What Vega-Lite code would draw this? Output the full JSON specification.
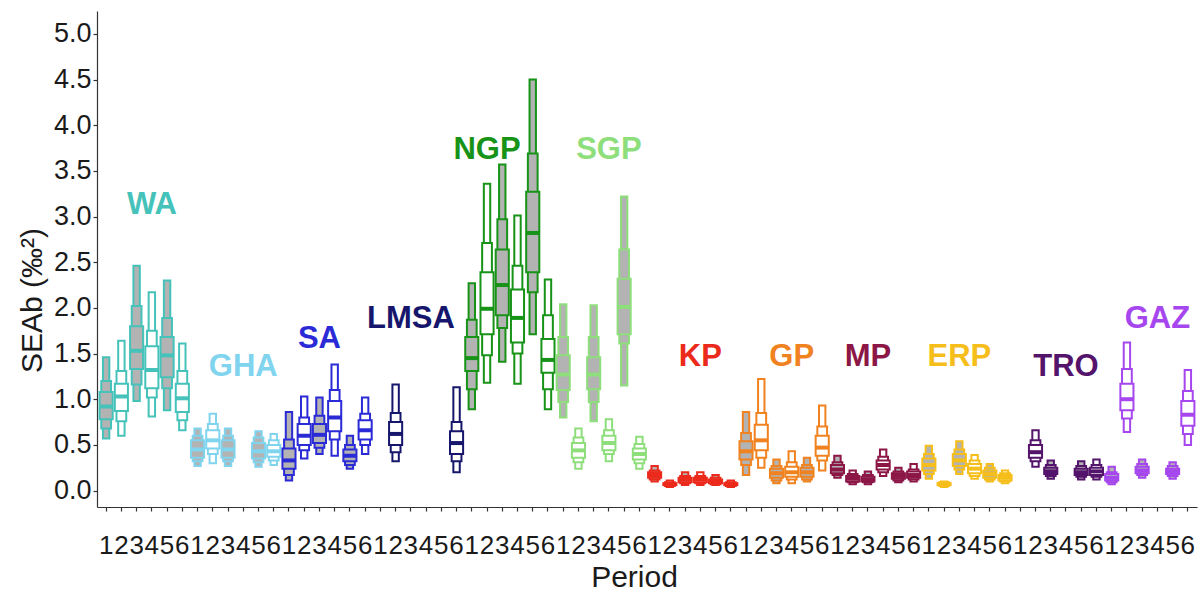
{
  "$schema": "https://vega.github.io/schema/vega-lite/v6.json",
  "width": 1100,
  "height": 496,
  "autosize": "none",
  "padding": {"left": 97, "top": 11, "right": 3, "bottom": 90},
  "background": "white",
  "config": {
    "view": {"stroke": null},
    "font": "Liberation Sans",
    "axis": {
      "domainColor": "#333333", "domainWidth": 1.2, "tickColor": "#333333", "tickWidth": 1.2,
      "labelColor": "#1a1a1a", "titleColor": "#1a1a1a", "labelFont": "Liberation Sans", "titleFont": "Liberation Sans",
      "grid": false, "titleFontWeight": "normal"
    }
  },
  "datasets": {
    "boxes": [
      {"k":"WA1","grp":"WA","p":1,"lo95":0.57,"lo75":0.68,"lo50":0.78,"med":0.92,"hi50":1.08,"hi75":1.20,"hi95":1.46},
      {"k":"WA2","grp":"WA","p":2,"lo95":0.60,"lo75":0.76,"lo50":0.87,"med":1.03,"hi50":1.17,"hi75":1.31,"hi95":1.64},
      {"k":"WA3","grp":"WA","p":3,"lo95":0.98,"lo75":1.16,"lo50":1.33,"med":1.53,"hi50":1.80,"hi75":2.02,"hi95":2.46},
      {"k":"WA4","grp":"WA","p":4,"lo95":0.81,"lo75":1.02,"lo50":1.12,"med":1.32,"hi50":1.58,"hi75":1.75,"hi95":2.17},
      {"k":"WA5","grp":"WA","p":5,"lo95":0.88,"lo75":1.12,"lo50":1.24,"med":1.48,"hi50":1.68,"hi75":1.89,"hi95":2.30},
      {"k":"WA6","grp":"WA","p":6,"lo95":0.66,"lo75":0.77,"lo50":0.86,"med":1.01,"hi50":1.17,"hi75":1.31,"hi95":1.61},
      {"k":"GHA1","grp":"GHA","p":1,"lo95":0.27,"lo75":0.32,"lo50":0.36,"med":0.45,"hi50":0.55,"hi75":0.60,"hi95":0.68},
      {"k":"GHA2","grp":"GHA","p":2,"lo95":0.30,"lo75":0.40,"lo50":0.46,"med":0.55,"hi50":0.66,"hi75":0.73,"hi95":0.84},
      {"k":"GHA3","grp":"GHA","p":3,"lo95":0.27,"lo75":0.32,"lo50":0.36,"med":0.45,"hi50":0.55,"hi75":0.60,"hi95":0.68},
      {"k":"GHA5","grp":"GHA","p":5,"lo95":0.26,"lo75":0.31,"lo50":0.35,"med":0.43,"hi50":0.52,"hi75":0.58,"hi95":0.65},
      {"k":"GHA6","grp":"GHA","p":6,"lo95":0.28,"lo75":0.33,"lo50":0.37,"med":0.43,"hi50":0.50,"hi75":0.55,"hi95":0.62},
      {"k":"SA1","grp":"SA","p":1,"lo95":0.11,"lo75":0.17,"lo50":0.24,"med":0.33,"hi50":0.46,"hi75":0.56,"hi95":0.86},
      {"k":"SA2","grp":"SA","p":2,"lo95":0.35,"lo75":0.44,"lo50":0.50,"med":0.60,"hi50":0.73,"hi75":0.80,"hi95":1.03},
      {"k":"SA3","grp":"SA","p":3,"lo95":0.40,"lo75":0.47,"lo50":0.52,"med":0.61,"hi50":0.73,"hi75":0.82,"hi95":1.02},
      {"k":"SA4","grp":"SA","p":4,"lo95":0.38,"lo75":0.56,"lo50":0.65,"med":0.80,"hi50":0.98,"hi75":1.10,"hi95":1.38},
      {"k":"SA5","grp":"SA","p":5,"lo95":0.24,"lo75":0.28,"lo50":0.32,"med":0.38,"hi50":0.45,"hi75":0.50,"hi95":0.60},
      {"k":"SA6","grp":"SA","p":6,"lo95":0.40,"lo75":0.50,"lo50":0.56,"med":0.66,"hi50":0.77,"hi75":0.84,"hi95":1.02},
      {"k":"LMSA2","grp":"LMSA","p":2,"lo95":0.32,"lo75":0.42,"lo50":0.50,"med":0.62,"hi50":0.75,"hi75":0.85,"hi95":1.16},
      {"k":"LMSA6","grp":"LMSA","p":6,"lo95":0.20,"lo75":0.32,"lo50":0.40,"med":0.52,"hi50":0.65,"hi75":0.75,"hi95":1.13},
      {"k":"NGP1","grp":"NGP","p":1,"lo95":0.89,"lo75":1.11,"lo50":1.31,"med":1.45,"hi50":1.68,"hi75":1.87,"hi95":2.27},
      {"k":"NGP2","grp":"NGP","p":2,"lo95":1.18,"lo75":1.48,"lo50":1.71,"med":1.99,"hi50":2.39,"hi75":2.71,"hi95":3.36},
      {"k":"NGP3","grp":"NGP","p":3,"lo95":1.41,"lo75":1.78,"lo50":1.92,"med":2.25,"hi50":2.64,"hi75":2.97,"hi95":3.57},
      {"k":"NGP4","grp":"NGP","p":4,"lo95":1.17,"lo75":1.50,"lo50":1.62,"med":1.89,"hi50":2.20,"hi75":2.46,"hi95":3.01},
      {"k":"NGP5","grp":"NGP","p":5,"lo95":1.71,"lo75":2.17,"lo50":2.39,"med":2.82,"hi50":3.27,"hi75":3.69,"hi95":4.50},
      {"k":"NGP6","grp":"NGP","p":6,"lo95":0.89,"lo75":1.11,"lo50":1.29,"med":1.43,"hi50":1.66,"hi75":1.92,"hi95":2.31},
      {"k":"SGP1","grp":"SGP","p":1,"lo95":0.80,"lo75":0.97,"lo50":1.10,"med":1.27,"hi50":1.48,"hi75":1.68,"hi95":2.04},
      {"k":"SGP2","grp":"SGP","p":2,"lo95":0.24,"lo75":0.31,"lo50":0.36,"med":0.44,"hi50":0.52,"hi75":0.58,"hi95":0.68},
      {"k":"SGP3","grp":"SGP","p":3,"lo95":0.76,"lo75":0.97,"lo50":1.11,"med":1.27,"hi50":1.46,"hi75":1.68,"hi95":2.03},
      {"k":"SGP4","grp":"SGP","p":4,"lo95":0.32,"lo75":0.40,"lo50":0.44,"med":0.52,"hi50":0.60,"hi75":0.66,"hi95":0.78},
      {"k":"SGP5","grp":"SGP","p":5,"lo95":1.15,"lo75":1.61,"lo50":1.71,"med":2.01,"hi50":2.32,"hi75":2.64,"hi95":3.22},
      {"k":"SGP6","grp":"SGP","p":6,"lo95":0.24,"lo75":0.30,"lo50":0.34,"med":0.40,"hi50":0.46,"hi75":0.51,"hi95":0.59},
      {"k":"KP1","grp":"KP","p":1,"lo95":0.10,"lo75":0.12,"lo50":0.14,"med":0.17,"hi50":0.20,"hi75":0.22,"hi95":0.27},
      {"k":"KP2","grp":"KP","p":2,"lo95":0.04,"lo75":0.05,"lo50":0.06,"med":0.07,"hi50":0.08,"hi75":0.09,"hi95":0.11},
      {"k":"KP3","grp":"KP","p":3,"lo95":0.06,"lo75":0.08,"lo50":0.09,"med":0.12,"hi50":0.14,"hi75":0.16,"hi95":0.20},
      {"k":"KP4","grp":"KP","p":4,"lo95":0.06,"lo75":0.08,"lo50":0.09,"med":0.12,"hi50":0.14,"hi75":0.16,"hi95":0.20},
      {"k":"KP5","grp":"KP","p":5,"lo95":0.06,"lo75":0.07,"lo50":0.08,"med":0.10,"hi50":0.12,"hi75":0.14,"hi95":0.17},
      {"k":"KP6","grp":"KP","p":6,"lo95":0.04,"lo75":0.05,"lo50":0.06,"med":0.07,"hi50":0.08,"hi75":0.09,"hi95":0.11},
      {"k":"GP1","grp":"GP","p":1,"lo95":0.17,"lo75":0.28,"lo50":0.34,"med":0.43,"hi50":0.54,"hi75":0.63,"hi95":0.86},
      {"k":"GP2","grp":"GP","p":2,"lo95":0.25,"lo75":0.36,"lo50":0.44,"med":0.55,"hi50":0.72,"hi75":0.85,"hi95":1.22},
      {"k":"GP3","grp":"GP","p":3,"lo95":0.08,"lo75":0.11,"lo50":0.14,"med":0.19,"hi50":0.24,"hi75":0.27,"hi95":0.34},
      {"k":"GP4","grp":"GP","p":4,"lo95":0.08,"lo75":0.12,"lo50":0.15,"med":0.20,"hi50":0.26,"hi75":0.31,"hi95":0.43},
      {"k":"GP5","grp":"GP","p":5,"lo95":0.10,"lo75":0.12,"lo50":0.15,"med":0.20,"hi50":0.25,"hi75":0.28,"hi95":0.36},
      {"k":"GP6","grp":"GP","p":6,"lo95":0.22,"lo75":0.33,"lo50":0.38,"med":0.47,"hi50":0.60,"hi75":0.70,"hi95":0.93},
      {"k":"MP1","grp":"MP","p":1,"lo95":0.14,"lo75":0.17,"lo50":0.19,"med":0.23,"hi50":0.28,"hi75":0.31,"hi95":0.38},
      {"k":"MP2","grp":"MP","p":2,"lo95":0.07,"lo75":0.09,"lo50":0.10,"med":0.13,"hi50":0.16,"hi75":0.18,"hi95":0.22},
      {"k":"MP3","grp":"MP","p":3,"lo95":0.07,"lo75":0.09,"lo50":0.10,"med":0.12,"hi50":0.15,"hi75":0.17,"hi95":0.21},
      {"k":"MP4","grp":"MP","p":4,"lo95":0.16,"lo75":0.20,"lo50":0.23,"med":0.28,"hi50":0.33,"hi75":0.37,"hi95":0.45},
      {"k":"MP5","grp":"MP","p":5,"lo95":0.09,"lo75":0.11,"lo50":0.13,"med":0.16,"hi50":0.19,"hi75":0.21,"hi95":0.25},
      {"k":"MP6","grp":"MP","p":6,"lo95":0.10,"lo75":0.12,"lo50":0.14,"med":0.17,"hi50":0.21,"hi75":0.23,"hi95":0.29},
      {"k":"ERP1","grp":"ERP","p":1,"lo95":0.13,"lo75":0.18,"lo50":0.22,"med":0.28,"hi50":0.35,"hi75":0.40,"hi95":0.49},
      {"k":"ERP2","grp":"ERP","p":2,"lo95":0.04,"lo75":0.05,"lo50":0.06,"med":0.07,"hi50":0.08,"hi75":0.09,"hi95":0.10},
      {"k":"ERP3","grp":"ERP","p":3,"lo95":0.18,"lo75":0.23,"lo50":0.27,"med":0.33,"hi50":0.40,"hi75":0.45,"hi95":0.54},
      {"k":"ERP4","grp":"ERP","p":4,"lo95":0.13,"lo75":0.16,"lo50":0.19,"med":0.24,"hi50":0.29,"hi75":0.33,"hi95":0.39},
      {"k":"ERP5","grp":"ERP","p":5,"lo95":0.10,"lo75":0.12,"lo50":0.14,"med":0.18,"hi50":0.22,"hi75":0.25,"hi95":0.29},
      {"k":"ERP6","grp":"ERP","p":6,"lo95":0.08,"lo75":0.10,"lo50":0.11,"med":0.14,"hi50":0.17,"hi75":0.19,"hi95":0.22},
      {"k":"TRO2","grp":"TRO","p":2,"lo95":0.26,"lo75":0.32,"lo50":0.36,"med":0.42,"hi50":0.50,"hi75":0.55,"hi95":0.66},
      {"k":"TRO3","grp":"TRO","p":3,"lo95":0.13,"lo75":0.16,"lo50":0.18,"med":0.21,"hi50":0.25,"hi75":0.28,"hi95":0.33},
      {"k":"TRO5","grp":"TRO","p":5,"lo95":0.12,"lo75":0.15,"lo50":0.17,"med":0.20,"hi50":0.24,"hi75":0.27,"hi95":0.32},
      {"k":"TRO6","grp":"TRO","p":6,"lo95":0.12,"lo75":0.15,"lo50":0.17,"med":0.21,"hi50":0.25,"hi75":0.28,"hi95":0.34},
      {"k":"GAZ1","grp":"GAZ","p":1,"lo95":0.07,"lo75":0.09,"lo50":0.11,"med":0.14,"hi50":0.18,"hi75":0.20,"hi95":0.26},
      {"k":"GAZ2","grp":"GAZ","p":2,"lo95":0.64,"lo75":0.79,"lo50":0.88,"med":1.00,"hi50":1.17,"hi75":1.33,"hi95":1.62},
      {"k":"GAZ3","grp":"GAZ","p":3,"lo95":0.14,"lo75":0.17,"lo50":0.19,"med":0.22,"hi50":0.26,"hi75":0.29,"hi95":0.34},
      {"k":"GAZ5","grp":"GAZ","p":5,"lo95":0.13,"lo75":0.16,"lo50":0.18,"med":0.21,"hi50":0.24,"hi75":0.27,"hi95":0.31},
      {"k":"GAZ6","grp":"GAZ","p":6,"lo95":0.50,"lo75":0.62,"lo50":0.71,"med":0.83,"hi50":0.98,"hi75":1.09,"hi95":1.32}
    ],
    "labels": [
      {"grp":"WA","k":"WA4","y":3.13},
      {"grp":"GHA","k":"GHA4","y":1.35},
      {"grp":"SA","k":"SA3","y":1.66},
      {"grp":"LMSA","k":"LMSA3","y":1.88},
      {"grp":"NGP","k":"NGP2","y":3.73},
      {"grp":"SGP","k":"SGP4","y":3.73},
      {"grp":"KP","k":"KP4","y":1.46},
      {"grp":"GP","k":"GP4","y":1.46},
      {"grp":"MP","k":"MP3","y":1.46},
      {"grp":"ERP","k":"ERP3","y":1.46},
      {"grp":"TRO","k":"TRO4","y":1.35},
      {"grp":"GAZ","k":"GAZ4","y":1.88}
    ]
  },
  "encoding": {
    "x": {
      "field": "k", "type": "ordinal",
      "scale": {
        "domain": ["WA1","WA2","WA3","WA4","WA5","WA6","GHA1","GHA2","GHA3","GHA4","GHA5","GHA6","SA1","SA2","SA3","SA4","SA5","SA6","LMSA1","LMSA2","LMSA3","LMSA4","LMSA5","LMSA6","NGP1","NGP2","NGP3","NGP4","NGP5","NGP6","SGP1","SGP2","SGP3","SGP4","SGP5","SGP6","KP1","KP2","KP3","KP4","KP5","KP6","GP1","GP2","GP3","GP4","GP5","GP6","MP1","MP2","MP3","MP4","MP5","MP6","ERP1","ERP2","ERP3","ERP4","ERP5","ERP6","TRO1","TRO2","TRO3","TRO4","TRO5","TRO6","GAZ1","GAZ2","GAZ3","GAZ4","GAZ5","GAZ6"],
        "paddingInner": 0, "paddingOuter": 0.1
      },
      "axis": {
        "title": "Period", "titleFontSize": 30, "titlePadding": 4, "titleX": 537,
        "labelExpr": "substring(datum.label, length(datum.label) - 1)",
        "labelFontSize": 26, "labelAngle": 0, "labelPadding": 21, "tickSize": 4, "labelOverlap": false
      }
    }
  },
  "layer": [
    {
      "data": {"name": "boxes"},
      "mark": {"type": "bar", "width": {"band": 0.42}, "strokeWidth": 2},
      "encoding": {
        "y": {"field": "lo95", "type": "quantitative", "scale": {"domain": [-0.18, 5.25], "nice": false, "zero": false},
              "axis": {"title": "SEAb (‰²)", "titleFontSize": 30, "titlePadding": 6, "titleY": 289, "values": [0,0.5,1,1.5,2,2.5,3,3.5,4,4.5,5], "format": ".1f", "labelFontSize": 27, "tickSize": 4, "labelPadding": 2}},
        "y2": {"field": "hi95"},
        "stroke": {"field": "grp", "type": "nominal", "legend": null,
                   "scale": {"domain": ["WA","GHA","SA","LMSA","NGP","SGP","KP","GP","MP","ERP","TRO","GAZ"],
                             "range": ["#45C2B9","#80D4EE","#2A2AD6","#16166C","#179317","#8EDE7C","#EC2A1C","#F0821F","#8C1746","#F5BE1A","#55146B","#A646EE"]}},
        "fill": {"condition": {"test": "datum.p % 2 === 1", "value": "#B3B3B3"}, "value": "white"}
      }
    },
    {
      "data": {"name": "boxes"},
      "mark": {"type": "bar", "width": {"band": 0.64}, "strokeWidth": 2},
      "encoding": {
        "y": {"field": "lo75", "type": "quantitative"},
        "y2": {"field": "hi75"},
        "stroke": {"field": "grp", "type": "nominal", "legend": null},
        "fill": {"condition": {"test": "datum.p % 2 === 1", "value": "#B3B3B3"}, "value": "white"}
      }
    },
    {
      "data": {"name": "boxes"},
      "mark": {"type": "bar", "width": {"band": 0.86}, "strokeWidth": 2},
      "encoding": {
        "y": {"field": "lo50", "type": "quantitative"},
        "y2": {"field": "hi50"},
        "stroke": {"field": "grp", "type": "nominal", "legend": null},
        "fill": {"condition": {"test": "datum.p % 2 === 1", "value": "#B3B3B3"}, "value": "white"}
      }
    },
    {
      "data": {"name": "boxes"},
      "mark": {"type": "tick", "size": 13, "thickness": 4, "orient": "horizontal", "opacity": 1},
      "encoding": {
        "y": {"field": "med", "type": "quantitative"},
        "color": {"field": "grp", "type": "nominal", "legend": null,
                  "scale": {"domain": ["WA","GHA","SA","LMSA","NGP","SGP","KP","GP","MP","ERP","TRO","GAZ"],
                            "range": ["#45C2B9","#80D4EE","#2A2AD6","#16166C","#179317","#8EDE7C","#EC2A1C","#F0821F","#8C1746","#F5BE1A","#55146B","#A646EE"]}}
      }
    },
    {
      "data": {"name": "labels"},
      "mark": {"type": "text", "fontSize": 31, "fontWeight": "bold", "font": "Liberation Sans", "align": "center", "baseline": "middle"},
      "encoding": {
        "y": {"field": "y", "type": "quantitative"},
        "text": {"field": "grp"},
        "color": {"field": "grp", "type": "nominal", "legend": null}
      }
    }
  ]
}
